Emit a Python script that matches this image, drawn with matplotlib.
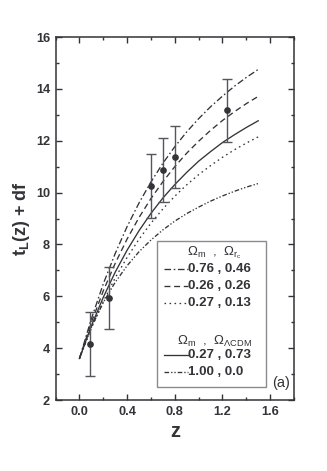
import matplotlib
matplotlib.use("Agg")
import matplotlib.pyplot as plt
from matplotlib.lines import Line2D
from matplotlib.patches import Rectangle
from matplotlib.ticker import MultipleLocator

plt.rcParams['font.family'] = ['Liberation Sans', 'DejaVu Sans']
plt.rcParams['mathtext.fontset'] = 'custom'
plt.rcParams['mathtext.rm'] = 'Liberation Sans'
plt.rcParams['mathtext.it'] = 'Liberation Sans:italic'
plt.rcParams['mathtext.bf'] = 'Liberation Sans:bold'

# ---- data ----
z_curve = [0.0, 0.1, 0.2, 0.3, 0.4, 0.5, 0.6, 0.7, 0.8, 0.9, 1.0, 1.1, 1.2, 1.3, 1.4, 1.5]
dgp_076_046 = [3.60, 5.13, 6.48, 7.65, 8.69, 9.60, 10.41, 11.13, 11.77, 12.34, 12.85, 13.31, 13.72, 14.10, 14.44, 14.75]
dgp_026_026 = [3.60, 4.99, 6.21, 7.27, 8.21, 9.04, 9.77, 10.42, 11.00, 11.52, 11.98, 12.40, 12.78, 13.12, 13.43, 13.71]
dgp_027_013 = [3.60, 4.77, 5.80, 6.71, 7.50, 8.20, 8.82, 9.37, 9.86, 10.30, 10.69, 11.04, 11.36, 11.65, 11.91, 12.15]
lcdm_027_073 = [3.60, 4.86, 5.96, 6.93, 7.78, 8.53, 9.20, 9.79, 10.31, 10.78, 11.21, 11.58, 11.93, 12.23, 12.51, 12.77]
eds_100_00 = [3.60, 4.80, 5.76, 6.54, 7.18, 7.72, 8.17, 8.56, 8.90, 9.19, 9.44, 9.67, 9.87, 10.05, 10.21, 10.35]

z_obs = [0.09, 0.25, 0.60, 0.70, 0.80, 1.24]
t_obs = [4.16, 5.92, 10.25, 10.86, 11.38, 13.18]
t_err = [1.22, 1.20, 1.23, 1.23, 1.20, 1.21]

x_ticks = [0.0, 0.4, 0.8, 1.2, 1.6]
y_ticks = [2, 4, 6, 8, 10, 12, 14, 16]

# ---- figure ----
dark = '#333338'
fig = plt.figure(figsize=(3.27, 4.71), dpi=100)
ax = fig.add_axes([0.170, 0.1507, 0.729, 0.7707])

lw = 0.95
ax.plot(z_curve, dgp_076_046, color=dark, lw=lw, dashes=(5, 2, 1.2, 2))
ax.plot(z_curve, dgp_026_026, color=dark, lw=lw, dashes=(4.5, 2.8))
ax.plot(z_curve, dgp_027_013, color=dark, lw=lw, dashes=(1.2, 2.6))
ax.plot(z_curve, lcdm_027_073, color=dark, lw=lw, ls='-')
ax.plot(z_curve, eds_100_00, color=dark, lw=lw, dashes=(3.5, 1.5, 1, 1.5, 1, 1.5))

ax.errorbar(z_obs, t_obs, yerr=t_err, fmt='o', ms=3.8, color=dark, ecolor='#55555c',
            elinewidth=1.0, capsize=3.5, capthick=1.0)

ax.set_xlim(-0.2, 1.8)
ax.set_ylim(2, 16)
ax.set_xticks(x_ticks)
ax.set_yticks(y_ticks)
ax.set_xticklabels([f'{v:.1f}' for v in x_ticks])
ax.xaxis.set_minor_locator(MultipleLocator(0.2))
ax.yaxis.set_minor_locator(MultipleLocator(1))
ax.tick_params(which='both', direction='in', top=True, right=True, color=dark, width=1.0)
ax.tick_params(which='major', length=4.5, labelsize=9.2, labelcolor=dark, pad=4)
ax.tick_params(which='minor', length=2.5)
for lab in ax.get_xticklabels() + ax.get_yticklabels():
    lab.set_fontweight('bold')
for s in ax.spines.values():
    s.set_color(dark)
    s.set_linewidth(1.1)

ax.set_xlabel('z', fontsize=14.5, fontweight='bold', color=dark, labelpad=3)
ax.set_ylabel(r't$_\mathbf{L}$(z) + df', fontsize=13, fontweight='bold', color=dark, labelpad=3)

# ---- legend box (manual) ----
T = ax.transAxes
ax.add_patch(Rectangle((0.424, 0.0366), 0.4585, 0.4023, transform=T, fill=False,
                       edgecolor='#8a8a90', lw=1.0, zorder=5))
fs = 9.5
ax.text(0.665, 0.405, r'$\Omega_\mathrm{m}$  ,  $\Omega_{\mathrm{r}_\mathrm{c}}$', transform=T,
        fontsize=9.5, color=dark, ha='center', va='center')
ax.text(0.665, 0.160, r'$\Omega_\mathrm{m}$  ,  $\Omega_{\Lambda\mathrm{CDM}}$', transform=T,
        fontsize=9.5, color=dark, ha='center', va='center')

entries = [
    (0.3610, dict(dashes=(5, 2, 1.2, 2)), '0.76 , 0.46'),
    (0.3130, dict(dashes=(4.5, 2.8)), '0.26 , 0.26'),
    (0.2670, dict(dashes=(1.2, 2.6)), '0.27 , 0.13'),
    (0.1240, dict(ls='-'), '0.27 , 0.73'),
    (0.0760, dict(dashes=(3.5, 1.5, 1, 1.5, 1, 1.5)), '1.00 , 0.0'),
]
for yy, sty, lab in entries:
    ln = Line2D([0.455, 0.555], [yy, yy], transform=T, color=dark, lw=lw, **sty)
    ax.add_line(ln)
    ax.text(0.556, yy, lab, transform=T, fontsize=fs, fontweight='bold', color=dark,
            ha='left', va='center')

ax.text(0.983, 0.047, '(a)', transform=T, fontsize=10.5, color=dark, ha='right', va='center')

fig.savefig('out.png', dpi=100)
